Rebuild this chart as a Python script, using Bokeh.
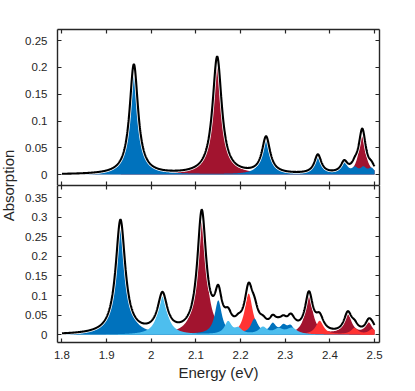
import numpy as np
from math import pi
from bokeh.plotting import figure
from bokeh.layouts import row, column
from bokeh.models import Range1d, LinearAxis, FixedTicker, PrintfTickFormatter, Grid
from bokeh.core.properties import value
from bokeh.embed import file_html
from bokeh.resources import INLINE

# ---------------- data (peak centre eV, peak height, half width eV) ----------------
energy_start, energy_end = 1.8, 2.5

# upper panel
top_blue_centers = [1.961, 2.257, 2.373, 2.432, 2.456, 2.475, 2.493]
top_blue_heights = [0.205, 0.068, 0.035, 0.020, 0.010, 0.011, 0.010]
top_blue_widths = [0.0115, 0.011, 0.0095, 0.009, 0.008, 0.008, 0.008]

top_red_centers = [2.1475, 2.472]
top_red_heights = [0.219, 0.071]
top_red_widths = [0.0125, 0.0095]

# lower panel
bot_blue_centers = [1.931, 2.150, 2.231, 2.272, 2.296, 2.312]
bot_blue_heights = [0.290, 0.086, 0.038, 0.025, 0.019, 0.019]
bot_blue_widths = [0.013, 0.0095, 0.0095, 0.009, 0.009, 0.009]

bot_lightblue_centers = [2.025, 2.172, 2.195, 2.250, 2.285, 2.315]
bot_lightblue_heights = [0.097, 0.032, 0.014, 0.018, 0.013, 0.016]
bot_lightblue_widths = [0.013, 0.0095, 0.0095, 0.011, 0.012, 0.014]

bot_darkred_centers = [2.113, 2.353, 2.440, 2.487]
bot_darkred_heights = [0.307, 0.098, 0.050, 0.028]
bot_darkred_widths = [0.012, 0.0105, 0.0105, 0.0095]

bot_red_centers = [2.218, 2.377, 2.455, 2.495]
bot_red_heights = [0.105, 0.035, 0.016, 0.014]
bot_red_widths = [0.011, 0.0105, 0.0095, 0.0095]

x_ticks = [1.8, 1.9, 2.0, 2.1, 2.2, 2.3, 2.4, 2.5]
x_tick_labels = ["1.8", "1.9", "2", "2.1", "2.2", "2.3", "2.4", "2.5"]
top_y_ticks = [0.0, 0.05, 0.1, 0.15, 0.2, 0.25]
top_y_tick_labels = ["0", "0.05", "0.1", "0.15", "0.2", "0.25"]
bot_y_ticks = [0.0, 0.05, 0.1, 0.15, 0.2, 0.25, 0.3, 0.35]
bot_y_tick_labels = ["0", "0.05", "0.1", "0.15", "0.2", "0.25", "0.3", "0.35"]

x_label = "Energy (eV)"
y_label = "Absorption"

# ---------------- style ----------------
FONT = "Liberation Sans"
INK = "#262626"
BLUE = "#0072BD"
LIGHTBLUE = "#4DBEEE"
DARKRED = "#A2142F"
RED = "#FF3333"

x = np.linspace(energy_start, energy_end, 1401)


def lorentz(centers, heights, widths):
    y = np.zeros_like(x)
    for c, h, w in zip(centers, heights, widths):
        y += h * w ** 2 / ((x - c) ** 2 + w ** 2)
    return y


x_range = Range1d(1.790, 2.511)


def make_axis(ticks, labels, show, standoff=9):
    ax = LinearAxis(
        ticker=FixedTicker(ticks=ticks, minor_ticks=[]),
        formatter=PrintfTickFormatter(format="%g"),
        major_tick_in=4, major_tick_out=0, minor_tick_in=0, minor_tick_out=0,
        axis_line_color=INK, axis_line_width=1.4,
        major_tick_line_color=INK, major_tick_line_width=1.2,
    )
    if show:
        ax.major_label_overrides = dict(zip(ticks, labels))
        ax.major_label_text_font = FONT
        ax.major_label_text_font_size = "11.5px"
        ax.major_label_text_color = INK
        ax.major_label_standoff = standoff
    else:
        ax.major_label_overrides = {t: "" for t in ticks}
        ax.major_label_text_font_size = "0px"
        ax.major_label_standoff = 0
    return ax


def make_panel(y_range, yticks, ylabels, frame_h, b_top, b_bottom, show_x):
    p = figure(frame_width=322, frame_height=frame_h, x_range=x_range, y_range=y_range,
               output_backend="svg", toolbar_location=None,
               x_axis_location=None, y_axis_location=None,
               min_border_left=32, min_border_right=12,
               min_border_top=b_top, min_border_bottom=b_bottom,
               outline_line_color=None, background_fill_color="white",
               border_fill_color="white")
    for r in list(p.center):
        if isinstance(r, Grid):
            r.visible = False
    p.add_layout(make_axis(yticks, ylabels, True, 10), "left")
    p.add_layout(make_axis(yticks, ylabels, False), "right")
    p.add_layout(make_axis(x_ticks, x_tick_labels, False), "above")
    bx = make_axis(x_ticks, x_tick_labels, show_x, 8)
    if show_x:
        bx.axis_label = x_label
        bx.axis_label_text_font = FONT
        bx.axis_label_text_font_size = "15px"
        bx.axis_label_text_font_style = "normal"
        bx.axis_label_text_color = INK
        bx.axis_label_standoff = 2
    p.add_layout(bx, "below")
    return p


def draw(p, groups):
    total = np.zeros_like(x)
    for comp, color in groups:
        p.varea(x=x, y1=0, y2=comp, fill_color=color, fill_alpha=1.0)
        total += comp
    p.line(x, total, line_color="white", line_width=3.6)
    p.line(x, total, line_color="black", line_width=2.1)


TOP_BORDER = 29
BOTTOM_BORDER = 49
TOP_FRAME = 156
BOTTOM_FRAME = 157

top = make_panel(Range1d(-0.0205, 0.271), top_y_ticks, top_y_tick_labels, TOP_FRAME, TOP_BORDER, 0, False)
draw(top, [
    (lorentz(top_red_centers, top_red_heights, top_red_widths), DARKRED),
    (lorentz(top_blue_centers, top_blue_heights, top_blue_widths), BLUE),
])

bottom = make_panel(Range1d(-0.0196, 0.3806), bot_y_ticks, bot_y_tick_labels, BOTTOM_FRAME, 0, BOTTOM_BORDER, True)
draw(bottom, [
    (lorentz(bot_darkred_centers, bot_darkred_heights, bot_darkred_widths), DARKRED),
    (lorentz(bot_red_centers, bot_red_heights, bot_red_widths), RED),
    (lorentz(bot_blue_centers, bot_blue_heights, bot_blue_widths), BLUE),
    (lorentz(bot_lightblue_centers, bot_lightblue_heights, bot_lightblue_widths), LIGHTBLUE),
])

# y label figure spanning both panels
LAB_W = 22
LAB_H = TOP_BORDER + TOP_FRAME + BOTTOM_FRAME + BOTTOM_BORDER
lab = figure(width=LAB_W, height=LAB_H, x_range=Range1d(0, LAB_W), y_range=Range1d(0, LAB_H),
             output_backend="svg", toolbar_location=None,
             x_axis_location=None, y_axis_location=None, min_border=0,
             outline_line_color=None, border_fill_color="white", background_fill_color="white")
for r in list(lab.center):
    if isinstance(r, Grid):
        r.visible = False
lab.text(x=[8], y=[LAB_H - (TOP_BORDER + TOP_FRAME)], text=[y_label], angle=pi / 2,
         text_align="center", text_baseline="alphabetic",
         text_font=value(FONT), text_font_size=value("15px"), text_color=INK)

layout = row(lab, column(top, bottom, spacing=0), spacing=0)

open("out.html", "w").write(file_html(layout, INLINE))
